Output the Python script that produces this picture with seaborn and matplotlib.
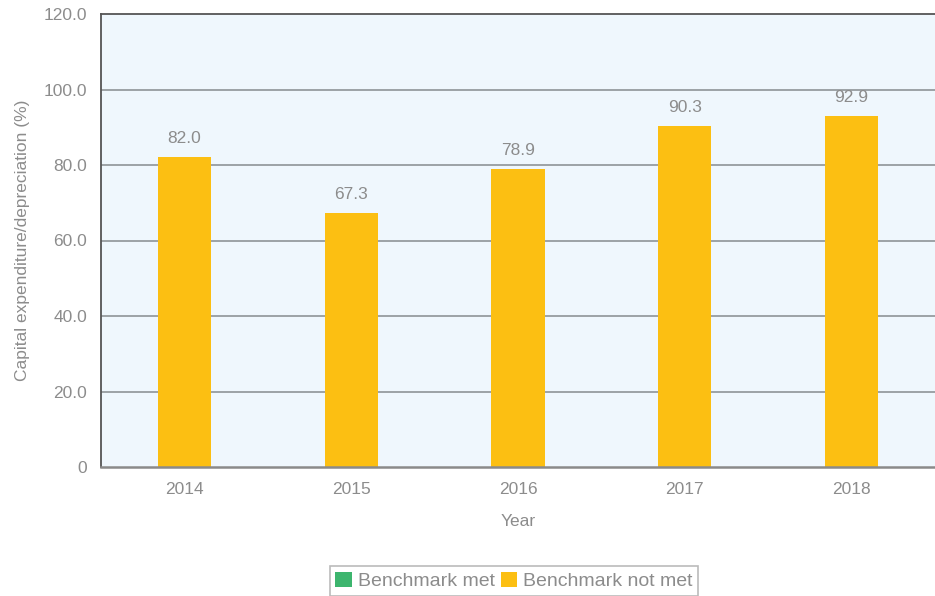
import matplotlib
matplotlib.use("Agg")
import matplotlib.pyplot as plt
from matplotlib.patches import Patch
import seaborn as sns
import pandas as pd

years = ["2014", "2015", "2016", "2017", "2018"]
values = [82.0, 67.3, 78.9, 90.3, 92.9]
status = ["Benchmark not met"] * 5
legend_labels = ["Benchmark met", "Benchmark not met"]
yticks = [0, 20, 40, 60, 80, 100, 120]
ytick_labels = ["0", "20.0", "40.0", "60.0", "80.0", "100.0", "120.0"]

colors = {"Benchmark met": "#3DB56E", "Benchmark not met": "#FCBF12"}
text_color = "#8C8C8C"

sns.set_theme(style="white")
plt.rcParams["font.family"] = ["Liberation Sans", "DejaVu Sans"]

df = pd.DataFrame({"Year": years, "Value": values, "Status": status})

fig = plt.figure(figsize=(9.35, 5.96), dpi=100)
ax = fig.add_axes([101 / 935, 1 - 467 / 596, 1 - 101 / 935, (467 - 14) / 596])
ax.set_facecolor("#EFF7FD")

sns.barplot(data=df, x="Year", y="Value", color=colors["Benchmark not met"],
            width=0.32, ax=ax, saturation=1, linewidth=0, edgecolor="none")

ax.set_ylim(0, 120)
ax.set_xlim(-0.5, 4.5)
ax.set_yticks(yticks)
ax.set_yticklabels(ytick_labels)
ax.tick_params(axis="both", length=0, labelsize=12.5, labelcolor=text_color)
ax.tick_params(axis="y", pad=10)
ax.tick_params(axis="x", pad=11)

for y in yticks[1:-1]:
    ax.axhline(y, color="#8E9498", lw=1.2, zorder=0.5)

for s in ["top", "left"]:
    ax.spines[s].set_color("#555555")
    ax.spines[s].set_linewidth(1.3)
ax.spines["bottom"].set_color("#8A8A8A")
ax.spines["bottom"].set_linewidth(1.8)
ax.spines["right"].set_visible(False)

for i, v in enumerate(values):
    ax.text(i, v + 3.0, f"{v:.1f}", ha="center", va="bottom", fontsize=12.5, color=text_color)

ax.set_xlabel("Year", fontsize=12.5, color=text_color, labelpad=12)
ax.set_ylabel("Capital expenditure/depreciation (%)", fontsize=12.5, color=text_color, labelpad=10)

handles = [Patch(facecolor=colors[l], edgecolor="none") for l in legend_labels]
leg = fig.legend(handles, legend_labels, loc="upper center",
                 bbox_to_anchor=(514 / 935, 1 - 566 / 596), ncol=2, frameon=True,
                 fancybox=False, fontsize=14, handlelength=0.85, handleheight=0.85,
                 handletextpad=0.3, columnspacing=0.3, borderpad=0.3, borderaxespad=0)
leg.get_frame().set_edgecolor("#AAAAAA")
leg.get_frame().set_linewidth(1.2)
for t in leg.get_texts():
    t.set_color(text_color)

fig.savefig("out.png", dpi=100)
